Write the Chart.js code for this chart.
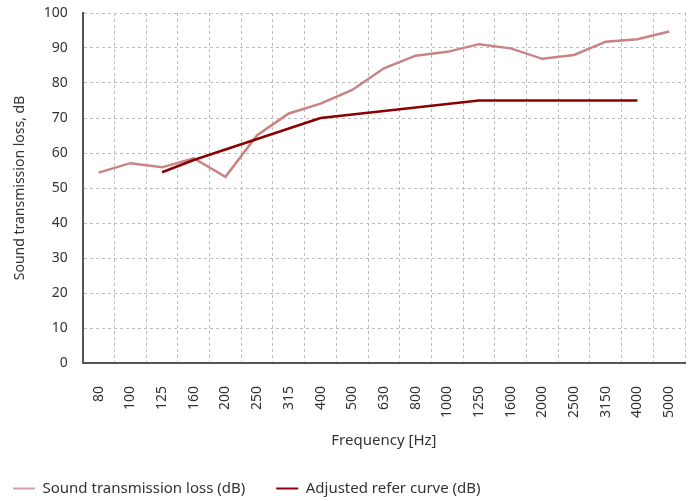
<!DOCTYPE html>
<html>
<head>
<meta charset="utf-8">
<script src="https://cdn.jsdelivr.net/npm/chart.js@4/dist/chart.umd.min.js"></script>
<style>
  html, body { margin: 0; padding: 0; background: #fff; }
  #wrap { width: 688px; height: 501px; }
</style>
</head>
<body>
<div id="wrap"><canvas id="soundChart" width="688" height="501"></canvas></div>
<script>
// Third-octave band centre frequencies
const frequencies = ['80', '100', '125', '160', '200', '250', '315', '400', '500', '630',
    '800', '1000', '1250', '1600', '2000', '2500', '3150', '4000', '5000'];

// Measured sound transmission loss, dB
const transmissionLoss = [54.4, 57.1, 55.9, 58.5, 53.2, 65.1, 71.3, 74.1, 78, 84.2,
    87.8, 88.9, 91.1, 89.9, 86.9, 88, 91.8, 92.5, 94.7];

// Shifted reference curve, dB (no value at 80, 100 and 5000 Hz)
const referCurve = [null, null, 54.5, 58, 61, 64, 67, 70, 71, 72,
    73, 74, 75, 75, 75, 75, 75, 75, null];

const yTicks = [0, 10, 20, 30, 40, 50, 60, 70, 80, 90, 100];

const fontFamily = "'Noto Sans', sans-serif";
const textColor = '#333333';
const legendColors = ['#d9a3a3', '#8b0000'];

// Legend spacing between items is wide, but the first item starts near the edge
const legendShift = {
    id: 'legendShift',
    afterLayout(chart) {
        if (chart.legend) {
            chart.legend.left = -18;
        }
    }
};

function initializeChart() {
    const ctx = document.getElementById('soundChart').getContext('2d');

    new Chart(ctx, {
        type: 'line',
        data: {
            labels: frequencies,
            datasets: [
                {
                    label: 'Sound transmission loss (dB)',
                    data: transmissionLoss,
                    borderColor: '#c98383',
                    backgroundColor: '#c98383',
                    borderWidth: 2.5,
                    pointRadius: 0,
                    tension: 0,
                    order: 2
                },
                {
                    label: 'Adjusted refer curve (dB)',
                    data: referCurve,
                    borderColor: '#8b0000',
                    backgroundColor: '#8b0000',
                    borderWidth: 2.5,
                    pointRadius: 0,
                    tension: 0,
                    spanGaps: false,
                    order: 1
                }
            ]
        },
        options: {
            responsive: false,
            animation: false,
            layout: { padding: { left: 0, right: 3, top: 0, bottom: 0 } },
            plugins: {
                tooltip: { enabled: false },
                legend: {
                    position: 'bottom',
                    align: 'start',
                    maxHeight: 51,
                    labels: {
                        boxWidth: 22,
                        boxHeight: 2,
                        padding: 31,
                        color: textColor,
                        font: { family: fontFamily, size: 15 },
                        sort: (a, b) => a.datasetIndex - b.datasetIndex,
                        generateLabels: chart => {
                            const items = Chart.defaults.plugins.legend.labels.generateLabels(chart);
                            items.forEach(item => {
                                item.lineWidth = 0;
                                item.fillStyle = legendColors[item.datasetIndex];
                            });
                            return items;
                        }
                    }
                }
            },
            scales: {
                x: {
                    offset: true,
                    afterFit: axis => {
                        axis.paddingLeft = 0;
                        axis.paddingRight = 0;
                        axis.height = 87;
                    },
                    grid: {
                        offset: true,
                        drawTicks: false,
                        color: '#bdbdbd',
                        lineWidth: 1
                    },
                    border: { display: true, color: '#555555', width: 2, dash: [3, 3] },
                    ticks: {
                        autoSkip: false,
                        minRotation: 90,
                        maxRotation: 90,
                        padding: 23,
                        color: textColor,
                        font: { family: fontFamily, size: 14 }
                    },
                    title: {
                        display: true,
                        text: 'Frequency [Hz]',
                        color: textColor,
                        font: { family: fontFamily, size: 15 },
                        padding: { top: 4, bottom: 0 }
                    }
                },
                y: {
                    min: 0,
                    max: 100,
                    afterBuildTicks: axis => {
                        axis.ticks = yTicks.map(v => ({ value: v }));
                    },
                    afterFit: axis => {
                        axis.paddingTop = 13;
                        axis.paddingBottom = 0;
                    },
                    grid: {
                        drawTicks: false,
                        color: '#bdbdbd',
                        lineWidth: 1
                    },
                    border: { display: true, color: '#555555', width: 2, dash: [3, 3] },
                    ticks: {
                        padding: 15,
                        color: textColor,
                        font: { family: fontFamily, size: 14 }
                    },
                    title: {
                        display: true,
                        text: 'Sound transmission loss, dB',
                        color: textColor,
                        font: { family: fontFamily, size: 14 },
                        padding: { top: 12, bottom: 0 }
                    }
                }
            }
        },
        plugins: [legendShift]
    });
}

window.onload = function() {
    initializeChart();
};
</script>
</body>
</html>
